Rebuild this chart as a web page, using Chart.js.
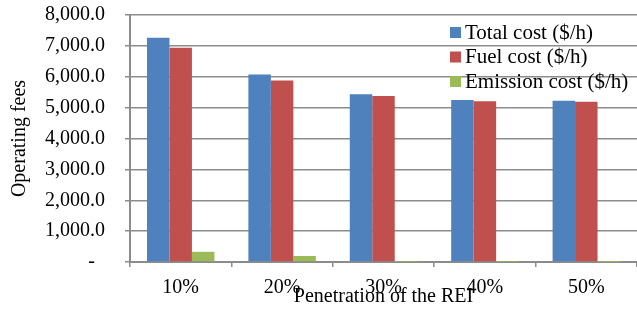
<!DOCTYPE html>
<html>
<head>
<meta charset="utf-8">
<script src="https://cdn.jsdelivr.net/npm/chart.js@4.4.1/dist/chart.umd.min.js"></script>
<style>
  html, body { margin: 0; padding: 0; background: #ffffff; }
  #wrap { width: 637px; height: 309px; position: relative; }
</style>
</head>
<body>
<div id="wrap"><canvas id="chart"></canvas></div>
<script>
// Penetration levels of the REI (x categories)
const categories = ['10%', '20%', '30%', '40%', '50%'];

// Operating fees ($/h)
const totalCost = [7260, 6070, 5430, 5245, 5225];
const fuelCost = [6940, 5880, 5380, 5205, 5190];
const emissionCost = [330, 195, 8, 5, 1];

const seriesLabels = ['Total cost ($/h)', 'Fuel cost ($/h)', 'Emission cost ($/h)'];
const seriesColors = ['#4F81BD', '#C0504D', '#9BBB59'];

const yTicks = { min: 0, max: 8000, step: 1000 };

const FONT = "'Liberation Serif', 'Times New Roman', serif";
const GRID = '#8c8c8c';

// Excel-style legend drawn inside the plot area, stacked vertically
const insideLegend = {
  id: 'insideLegend',
  afterDraw(chart) {
    const { ctx, chartArea } = chart;
    const x = chartArea.right - 187;
    ctx.save();
    ctx.font = `21px ${FONT}`;
    ctx.textBaseline = 'middle';
    ctx.textAlign = 'left';
    chart.data.datasets.forEach((ds, i) => {
      const y = chartArea.top + 17 + i * 24.5;
      ctx.fillStyle = ds.backgroundColor;
      ctx.fillRect(x, y - 5, 11, 11);
      ctx.fillStyle = '#000000';
      ctx.fillText(ds.label, x + 15, y + 1);
    });
    ctx.restore();
  }
};

const data = {
  labels: categories,
  datasets: [totalCost, fuelCost, emissionCost].map((values, i) => ({
    label: seriesLabels[i],
    data: values,
    backgroundColor: seriesColors[i],
    borderWidth: 0,
    barPercentage: 1,
    categoryPercentage: 0.665
  }))
};

new Chart(document.getElementById('chart'), {
  type: 'bar',
  data,
  plugins: [insideLegend],
  options: {
    responsive: true,
    maintainAspectRatio: false,
    animation: false,
    layout: { padding: 0 },
    plugins: {
      legend: { display: false },
      tooltip: { enabled: false }
    },
    scales: {
      x: {
        grid: {
          offset: true,
          drawOnChartArea: false,
          drawTicks: true,
          tickLength: 5,
          color: GRID,
          lineWidth: 1.5
        },
        border: { color: GRID, width: 2 },
        ticks: {
          color: '#000000',
          font: { family: FONT, size: 20 },
          padding: 9,
          maxRotation: 0
        },
        title: {
          display: true,
          text: 'Penetration of the REI',
          color: '#000000',
          font: { family: FONT, size: 20 },
          padding: { top: 0, bottom: 0 }
        },
        afterFit(scale) { scale.height = 47; }
      },
      y: {
        min: yTicks.min,
        max: yTicks.max,
        grid: {
          color: GRID,
          lineWidth: 1.5,
          tickLength: 5
        },
        border: { color: GRID, width: 2 },
        ticks: {
          stepSize: yTicks.step,
          color: '#000000',
          font: { family: FONT, size: 20 },
          padding: 20,
          callback: (v) => v === 0 ? '-  ' : v.toLocaleString('en-US', { minimumFractionDigits: 1, maximumFractionDigits: 1 })
        },
        title: {
          display: true,
          text: 'Operating fees',
          color: '#000000',
          font: { family: FONT, size: 20 },
          padding: { top: 8, bottom: 0 }
        },
        afterFit(scale) {
          scale.width = 130;
          // keep the label gap from pushing the plot top down
          scale.paddingTop = 15;
          scale.paddingBottom = 0;
        }
      }
    }
  }
});
</script>
</body>
</html>
